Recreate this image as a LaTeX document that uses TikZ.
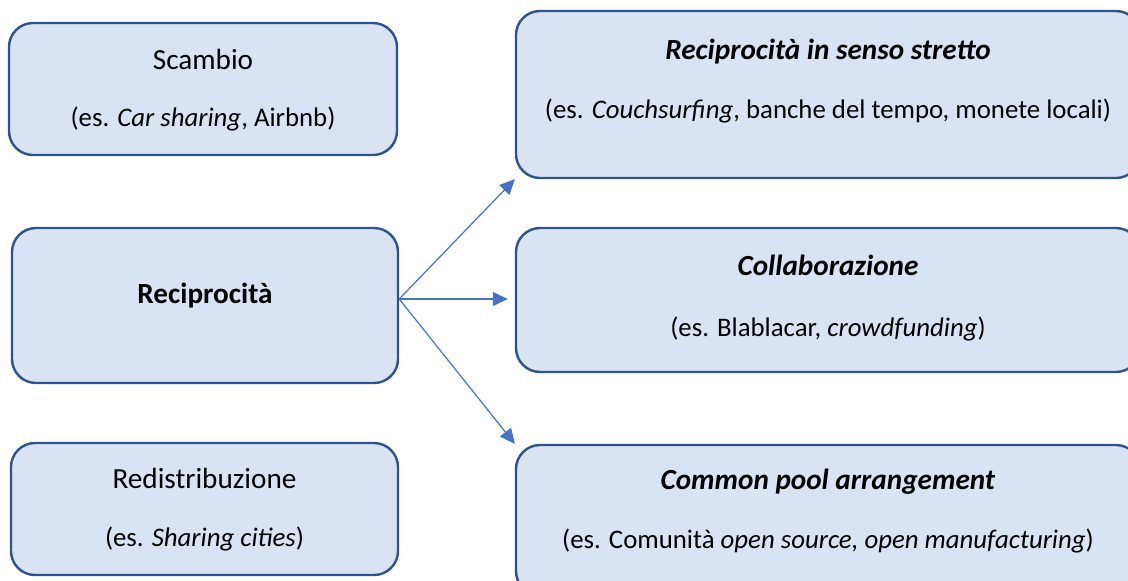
\documentclass[tikz,border=0pt]{standalone}
\usepackage{fontspec}
\setmainfont{Carlito}
\usetikzlibrary{arrows.meta, positioning}
\definecolor{boxfill}{HTML}{DAE3F3}
\definecolor{boxline}{HTML}{2F528F}
\definecolor{arrowblue}{HTML}{4472C4}

\begin{document}
\begin{tikzpicture}[x=0.5pt, y=-0.5pt, every node/.style={font=\fontsize{13.4}{15}\selectfont},
		box/.style={draw=boxline, fill=boxfill, line width=1.2pt, rounded corners=12pt, inner sep=0pt},
		title/.style={anchor=base, font=\fontsize{14.6}{17}\selectfont},
		example/.style={anchor=base},
		arr/.style={draw=arrowblue, line width=0.6pt, -{Triangle[length=7.5pt, width=7pt]}}]
		\useasboundingbox (0,0) rectangle (1128,580);

		% left column
		\node[box, minimum width=194pt, minimum height=66pt] (scambio) at (203,89) {};
		\node[box, minimum width=193pt, minimum height=77.5pt] (recip) at (205,305.5) {};
		\node[box, minimum width=193.5pt, minimum height=66pt] (redist) at (204.5,509) {};

		\node[title] (scambioT) at (203,69) {Scambio};
		\node[example] (scambioE) at (203,126) {(es. \textit{Car sharing}, Airbnb)};
		\node[title] (recipT) at (205,303) {\textbf{Reciprocità}};
		\node[title] (redistT) at (204.5,488) {Redistribuzione};
		\node[example] (redistE) at (204.5,546) {(es. \textit{Sharing cities})};

		% right column
		\node[box, minimum width=312pt, minimum height=83.5pt] (stretto) at (828,94.5) {};
		\node[box, minimum width=312pt, minimum height=72pt] (collab) at (828,300) {};
		\node[box, minimum width=312pt, minimum height=75pt] (pool) at (828,520) {};

		\node[title] (strettoT) at (828,59) {\textbf{\textit{Reciprocità in senso stretto}}};
		\node[example] (strettoE) at (828,118) {(es. \textit{Couchsurfing}, banche del tempo, monete locali)};
		\node[title] (collabT) at (828,275) {\textbf{\textit{Collaborazione}}};
		\node[example] (collabE) at (828,336) {(es. Blablacar, \textit{crowdfunding})};
		\node[title] (poolT) at (828,489) {\textbf{\textit{Common pool arrangement}}};
		\node[example] (poolE) at (828,548) {(es. Comunità \textit{open source, open manufacturing})};

		% arrows
		\coordinate (hub) at ([yshift=3.25pt]recip.east);
		\draw[arr] (hub) -- (stretto.south west);
		\draw[arr] (hub) -- ([xshift=-3.5pt]hub -| collab.west);
		\draw[arr] (hub) -- (pool.north west);
\end{tikzpicture}
\end{document}
